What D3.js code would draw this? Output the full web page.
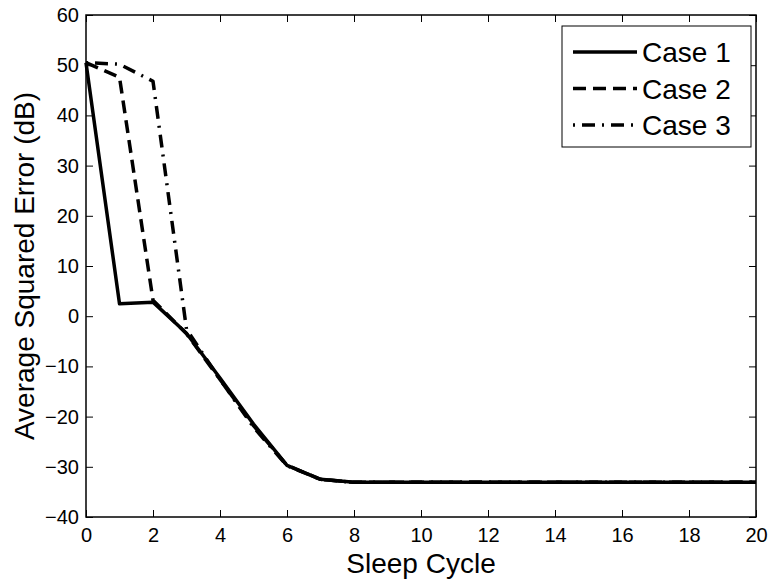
<!DOCTYPE html>
<html>
<head>
<meta charset="utf-8">
<script src="https://cdn.jsdelivr.net/npm/d3@7"></script>
<style>
  body { margin: 0; background: #fff; }
  svg text { font-family: "Liberation Sans", Arial, Helvetica, sans-serif; fill: #000; }
</style>
</head>
<body>
<div class="chart"></div>
<script>
// sleep cycles 0..20
var cycles = d3.range(0, 21);

// average squared error (dB)
var case1 = [50.5, 2.5, 2.8, -3.4, -12.3, -21.5, -29.7, -32.5, -33.1, -33.1,
             -33.1, -33.1, -33.1, -33.1, -33.1, -33.1, -33.1, -33.1, -33.1, -33.1, -33.1];
var case2 = [50.5, 47.6, 3.2, -3.5, -12.6, -21.8, -29.7, -32.5, -33.1, -33.1,
             -33.1, -33.1, -33.1, -33.1, -33.1, -33.1, -33.1, -33.1, -33.1, -33.1, -33.1];
var case3 = [50.5, 50.2, 46.8, -2.6, -12.6, -22.1, -29.8, -32.5, -33.1, -33.1,
             -33.1, -33.1, -33.1, -33.1, -33.1, -33.1, -33.1, -33.1, -33.1, -33.1, -33.1];

var seriesNames = ["Case 1", "Case 2", "Case 3"];
var xTicks = d3.range(0, 21, 2);
var yTicks = d3.range(-40, 61, 10);

var width = 770;
var height = 580;
var margin = {left: 86, right: 14, top: 15, bottom: 63};

var x = d3.scaleLinear().domain([0, 20]).range([margin.left, width - margin.right]);
var y = d3.scaleLinear().domain([-40, 60]).range([height - margin.bottom, margin.top]);

var svg = d3.select(".chart").append("svg")
	.attr("width", width)
	.attr("height", height);

var dashes = ["none", "13,7", "2,7,13,7"];
var allSeries = [case1, case2, case3];

// lines
var line = d3.line()
	.x(function(d, i) { return x(cycles[i]); })
	.y(function(d) { return y(d); });

for(var i = allSeries.length - 1; i >= 0; i--) {
	svg.append("path")
		.datum(allSeries[i])
		.attr("d", line)
		.attr("fill", "none")
		.attr("stroke", "#000")
		.attr("stroke-width", 3.5)
		.attr("stroke-linejoin", "round")
		.attr("stroke-dasharray", dashes[i]);
}

// axes (ticks point inwards, on all four sides)
function styleAxis(g) {
	g.select(".domain").remove();
	g.selectAll("line").attr("stroke", "#000").attr("stroke-width", 1);
	g.selectAll("text").attr("font-size", 20).attr("fill", "#000")
		.style("font-family", "'Liberation Sans', Arial, sans-serif");
}

svg.append("g")
	.attr("transform", "translate(0," + y(-40) + ")")
	.call(d3.axisBottom(x).tickValues(xTicks).tickSize(-7).tickPadding(11))
	.call(styleAxis);

svg.append("g")
	.attr("transform", "translate(0," + y(60) + ")")
	.call(d3.axisTop(x).tickValues(xTicks).tickSize(-7).tickFormat(""))
	.call(styleAxis);

svg.append("g")
	.attr("transform", "translate(" + x(0) + ",0)")
	.call(d3.axisLeft(y).tickValues(yTicks).tickSize(-7).tickPadding(7))
	.call(styleAxis);

svg.append("g")
	.attr("transform", "translate(" + x(20) + ",0)")
	.call(d3.axisRight(y).tickValues(yTicks).tickSize(-7).tickFormat(""))
	.call(styleAxis);

// box
svg.append("rect")
	.attr("x", x(0))
	.attr("y", y(60))
	.attr("width", x(20) - x(0))
	.attr("height", y(-40) - y(60))
	.attr("fill", "none")
	.attr("stroke", "#000")
	.attr("stroke-width", 1.5);

// axis labels
svg.append("text")
	.attr("x", (x(0) + x(20)) / 2)
	.attr("y", 573)
	.attr("text-anchor", "middle")
	.attr("font-size", 28)
	.text("Sleep Cycle");

svg.append("text")
	.attr("transform", "translate(34," + (y(60) + y(-40)) / 2 + ") rotate(-90)")
	.attr("text-anchor", "middle")
	.attr("font-size", 28)
	.text("Average Squared Error (dB)");

// legend
var legend = svg.append("g");
legend.append("rect")
	.attr("x", 562)
	.attr("y", 26)
	.attr("width", 189)
	.attr("height", 121)
	.attr("fill", "#fff")
	.attr("stroke", "#000")
	.attr("stroke-width", 1);

for(var i = 0; i < seriesNames.length; i++) {
	var rowY = 52 + i * 36.5;
	legend.append("line")
		.attr("x1", 573)
		.attr("x2", 637)
		.attr("y1", rowY)
		.attr("y2", rowY)
		.attr("stroke", "#000")
		.attr("stroke-width", 3.5)
		.attr("stroke-dasharray", dashes[i]);
	legend.append("text")
		.attr("x", 642)
		.attr("y", rowY + 10)
		.attr("font-size", 28)
		.text(seriesNames[i]);
}
</script>
</body>
</html>
